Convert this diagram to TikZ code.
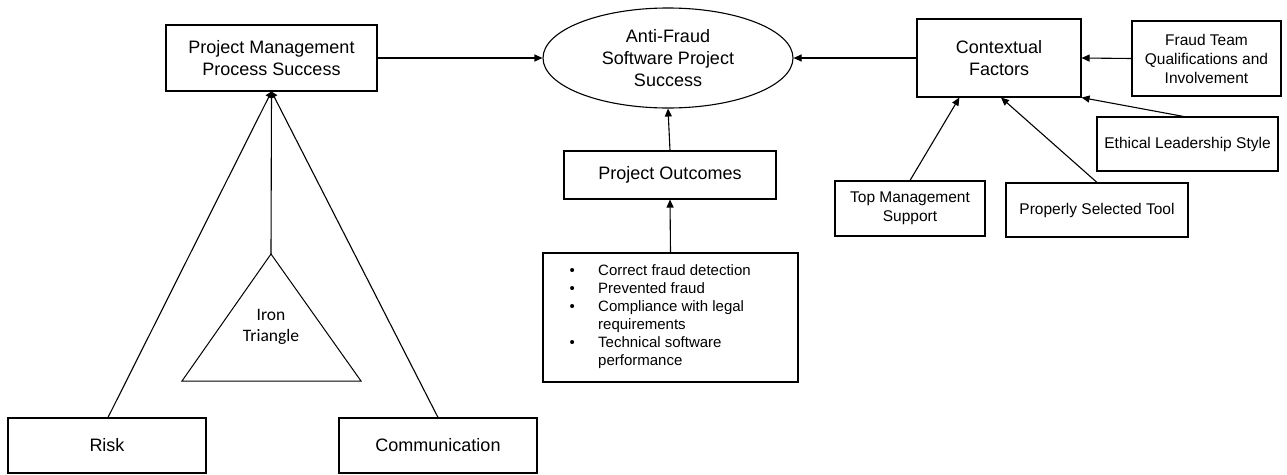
\documentclass[tikz,border=0pt]{standalone}
\usepackage{fontspec}
\setmainfont{Liberation Sans}
\newfontfamily\calibrifont{Carlito}
\usetikzlibrary{arrows.meta,shapes.geometric,calc}

\begin{document}
\begin{tikzpicture}[x=1pt,y=-1pt,
  box/.style={draw, line width=1.1pt, rectangle, align=center, inner sep=0pt},
  big/.style={font=\fontsize{18}{22}\selectfont},
  small/.style={font=\fontsize{15.5}{19}\selectfont},
  conn/.style={line width=1.1pt},
  arr/.style={conn, -{Triangle[length=8pt,width=7pt]}},
  joinarr/.style={conn, -{Triangle[length=6pt,width=7pt]}}]
\path[use as bounding box, fill=white] (0,0) rectangle (1287,474);

% central goal
\node[draw, ellipse, line width=1.1pt, big, align=center, inner sep=0pt,
      minimum width=250pt, minimum height=100pt] (goal) at (668,58)
      {Anti-Fraud\\Software Project\\Success};

% left branch: process success
\node[box, big, minimum width=211pt, minimum height=66pt] (pm) at (271.5,58)
      {Project Management\\Process Success};
\node[box, big, minimum width=198pt, minimum height=55pt] (risk) at (107,445.5) {Risk};
\node[box, big, minimum width=198pt, minimum height=55pt] (comm) at (438,445.5) {Communication};

\coordinate (apex) at (271,254);
\coordinate (triL) at (182,381);
\coordinate (triR) at (361,381);
\draw[line width=1pt] (apex) -- (triL) -- (triR) -- cycle;
\node[font=\calibrifont\fontsize{17.5}{21}\selectfont, align=center] (iron) at (271,327)
      {Iron\\Triangle};

% middle branch: outcomes
\node[box, big, minimum width=212pt, minimum height=48pt] (po) at (670,175) {Project Outcomes};
\node[box, minimum width=255pt, minimum height=129pt] (outbox) at (670.5,317.5) {};
\node[anchor=west, inner sep=0pt, font=\fontsize{15}{18}\selectfont] (outlist) at (569.5,316.5)
  {\begin{tabular}{@{}p{28.5pt}@{}l@{}}
    \textbullet & Correct fraud detection\\
    \textbullet & Prevented fraud\\
    \textbullet & Compliance with legal\\
                & requirements\\
    \textbullet & Technical software\\
                & performance
  \end{tabular}};

% right branch: contextual factors
\node[box, big, minimum width=164pt, minimum height=78pt] (cf) at (999,58) {Contextual\\Factors};
\node[box, small, minimum width=149pt, minimum height=75pt] (team) at (1206.5,58.5)
      {Fraud Team\\Qualifications and\\Involvement};
\node[box, small, minimum width=181pt, minimum height=54pt] (eth) at (1187.5,144)
      {Ethical Leadership Style};
\node[box, small, minimum width=150pt, minimum height=55pt] (tms) at (910,208.5)
      {Top Management\\Support};
\node[box, small, minimum width=182pt, minimum height=54pt] (pst) at (1097,210)
      {Properly Selected Tool};

% connectors
\draw[arr] (pm.east) -- (goal.west);
\draw[arr] (cf.west) -- (goal.east);
\draw[arr] (team.west) -- (cf.east);
\draw[arr] ([xshift=-4pt]eth.north) -- (cf.south east);
\draw[arr] (tms.north) -- ($(cf.south west)!0.26!(cf.south east)$);
\draw[arr] (pst.north) -- ([xshift=2pt]cf.south);
\draw[arr] (po.north) -- (goal.south);
\draw[arr] (outbox.north) -- (po.south);

\draw[joinarr] ([xshift=1pt]risk.north) -- (pm.south);
\draw[joinarr] (apex) -- (pm.south);
\draw[joinarr] (comm.north) -- (pm.south);
\end{tikzpicture}
\end{document}
